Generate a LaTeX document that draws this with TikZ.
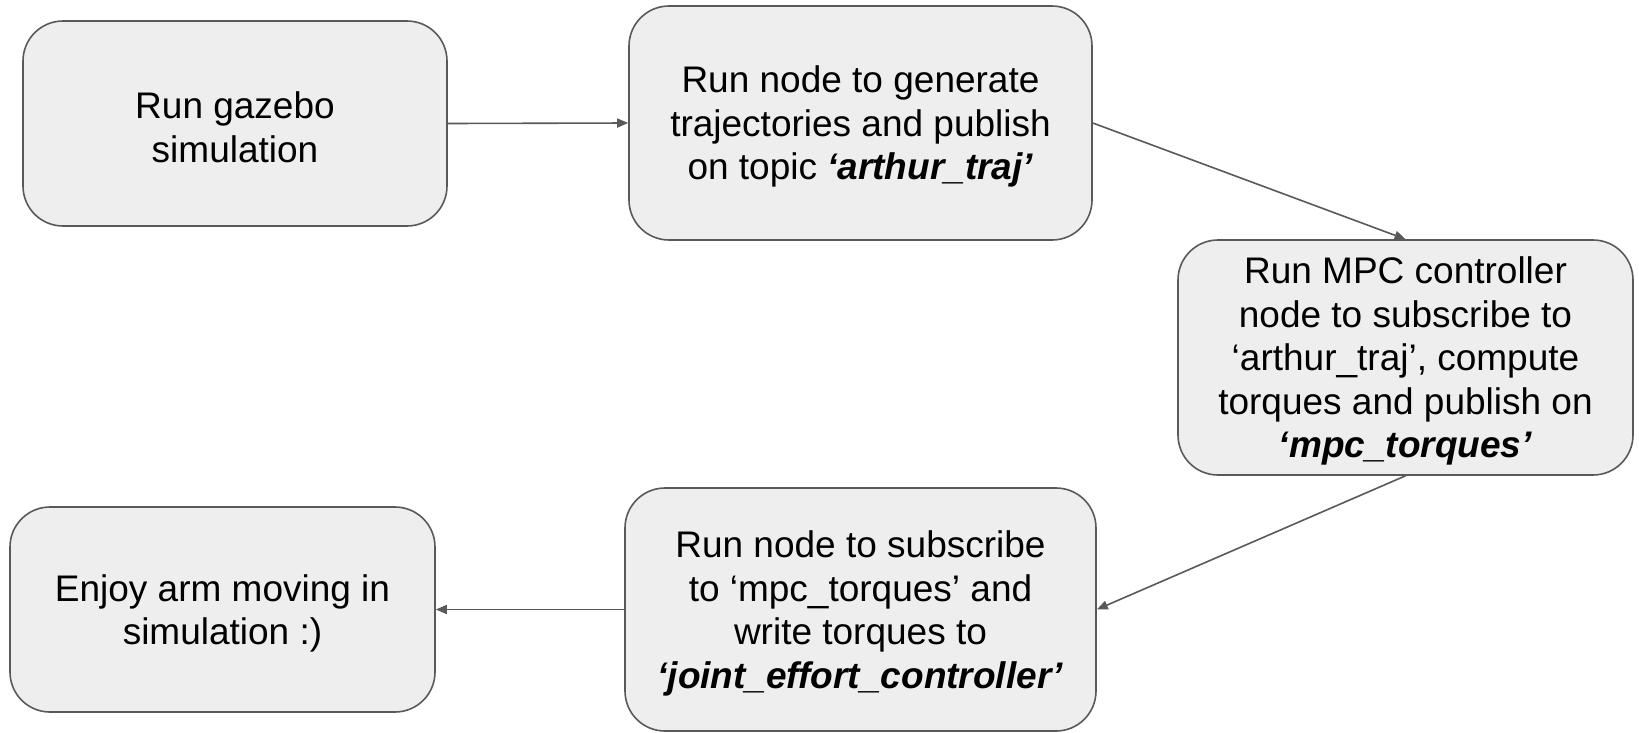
\documentclass[tikz,border=0pt]{standalone}
\usepackage{fontspec}
\setmainfont{Liberation Sans}
\usetikzlibrary{arrows.meta}
\definecolor{boxfill}{HTML}{EEEEEE}
\definecolor{boxline}{HTML}{595959}
\begin{document}
\begin{tikzpicture}[x=1pt,y=-1pt,
  stepbox/.style={draw=boxline, fill=boxfill, line width=1.6pt, rounded corners=40pt,
    inner sep=0pt, align=center, text=black,
    font=\fontsize{37}{43.5}\selectfont},
  conn/.style={draw=boxline, line width=1.6pt, -{Triangle[length=11pt,width=9pt]}}]
\newcommand{\topstrut}{\rule{0pt}{34.5pt}}
\useasboundingbox (0,0) rectangle (1639,732);
\node[stepbox, minimum width=424pt, minimum height=205pt] (A) at (235,123.5) {\topstrut Run gazebo\\simulation};
\node[stepbox, minimum width=463pt, minimum height=234pt] (B) at (860.5,123) {\topstrut Run node to generate\\trajectories and publish\\on topic \textbf{\textit{‘arthur\_traj’}}};
\node[stepbox, minimum width=455pt, minimum height=235pt] (C) at (1405.5,357.5) {\topstrut Run MPC controller\\node to subscribe to\\‘arthur\_traj’, compute\\torques and publish on\\\textbf{\textit{‘mpc\_torques’}}};
\node[stepbox, minimum width=471pt, minimum height=243pt] (D) at (860.5,609.5) {\topstrut Run node to subscribe\\to ‘mpc\_torques’ and\\write torques to\\\textbf{\textit{‘joint\_effort\_controller’}}};
\node[stepbox, minimum width=425pt, minimum height=205pt] (E) at (222.5,609.5) {\topstrut Enjoy arm moving in\\simulation :)};
\draw[conn] (A.east) -- (B.west);
\draw[conn] (B.east) -- (C.north);
\draw[conn] (C.south) -- (D.east);
\draw[conn] (D.west) -- (E.east);
\end{tikzpicture}
\end{document}
